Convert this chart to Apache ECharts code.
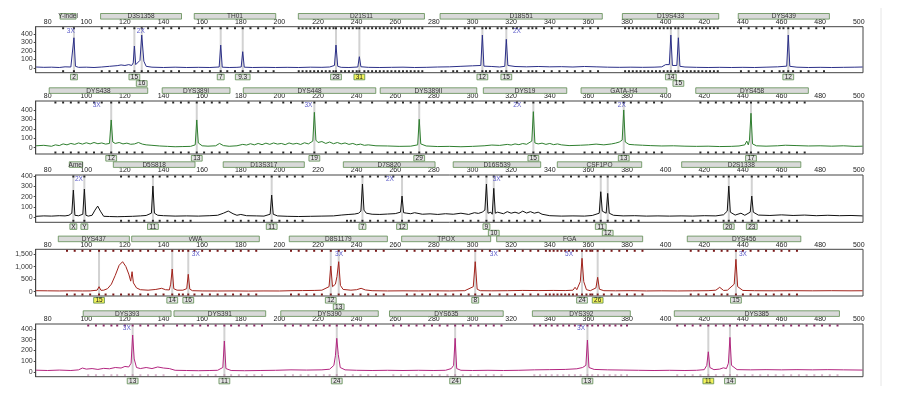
<!DOCTYPE html>
<html>
<head>
<meta charset="utf-8">
<script src="https://cdn.jsdelivr.net/npm/echarts@6/dist/echarts.min.js"></script>
<style>
  html, body { margin: 0; padding: 0; background: #fff; }
  #ech { width: 902px; height: 397px; }
</style>
</head>
<body>
<div id="ech"></div>
<script>
// x axis labels (bp) shared by all dye panels
const sizeTicks = [80, 100, 120, 140, 160, 180, 200, 220, 240, 260, 280, 300, 320, 340, 360, 380, 400, 420, 440, 460, 480, 500];
const rfuTicks = [0, 100, 200, 300, 400];
const rfuTicksRed = [0, 500, 1000, 1500];

// locus bins: [start bp, end bp, name]
const lociBlue = [[86.4, 94.7, 'Y-indel'], [107.4, 149.3, 'D3S1358'], [155.9, 198.1, 'TH01'], [209.8, 275.1, 'D21S11'], [283.2, 367.2, 'D18S51'], [377.6, 427.5, 'D19S433'], [437.6, 484.8, 'DYS439']];
const lociGreen = [[80.8, 131.8, 'DYS438'], [139.3, 174.4, 'DYS389I'], [181.3, 249.9, 'DYS448'], [252.2, 302.2, 'DYS389II'], [305.6, 348.8, 'DYS19'], [356.2, 400.6, 'GATA-H4'], [415.6, 473.9, 'DYS458']];
const lociBlack = [[91.2, 98.1, 'Amel'], [114, 156.3, 'D5S818'], [170.9, 212.9, 'D13S317'], [233.1, 280.6, 'D7S820'], [290, 335.3, 'D16S539'], [343.9, 387.6, 'CSF1PO'], [408.3, 470, 'D2S1338']];
const lociRed = [[85.5, 122.3, 'DYS437'], [123.5, 189.6, 'vWA'], [205.1, 255.9, 'D8S1179'], [263.3, 309.4, 'TPOX'], [312.5, 388.1, 'FGA'], [411.2, 470, 'DYS456']];
const lociPink = [[98.4, 143.9, 'DYS393'], [145.4, 192.9, 'DYS391'], [200.7, 251.2, 'DYS390'], [257, 315.9, 'DYS635'], [331, 381.7, 'DYS392'], [404.5, 490, 'DYS385']];

// ladder bin positions (bp), drawn as small squares on the plot edges
const binsBlue = [88, 93.6,
    108, 112, 116, 120, 124.9, 128.7, 132, 136, 140, 144, 148,
    156, 160, 164, 169.6, 173, 177, 181, 185, 189, 193, 197,
    210, 212, 214, 216, 218, 220, 222, 224, 226, 228, 229.3, 232, 234, 236, 238, 240, 241.4, 244, 246, 248, 250, 252, 254, 256, 258, 260, 262, 264, 266, 268, 270, 272, 274,
    284, 286, 290, 292, 296, 298, 301, 305.1, 307, 309, 313, 315, 317.5, 321, 323, 325, 329, 331, 333, 337, 341, 345, 349, 353, 357, 361, 365,
    379, 381, 383, 385, 387, 389, 391, 393, 395, 397, 399, 401, 402.7, 405, 406.6, 409, 411, 413, 415, 417, 419, 421, 423, 425, 427,
    439, 443, 447, 451, 455, 459, 461, 463.5, 466, 470, 474, 478, 482];
const binsGreen = [84, 88, 92, 96, 100, 104, 108, 112.9, 117, 121, 125, 129,
    141, 145, 149, 153, 157.2, 161, 165, 169, 173,
    184, 190, 196, 202, 206, 212, 218.1, 224, 230, 236, 242, 248,
    256, 260, 264, 268, 272.4, 276, 280, 284, 288, 292, 296, 300,
    307, 311, 315, 319, 323, 327, 331.5, 335, 339, 343, 347,
    358, 362, 366, 370, 374, 378.3, 382, 386, 390, 394, 398,
    418, 422, 426, 430, 434, 438, 442, 444.2, 448, 452, 456, 460, 464, 468, 472];
const binsBlack = [93.3, 99,
    118, 122, 126, 130, 134.5, 138, 142, 146, 150, 154,
    172, 176, 180, 184, 188, 192, 196, 200, 204, 208, 212,
    235, 237, 239, 243, 247, 251, 255, 259, 263.5, 267, 271, 275, 279,
    291, 295, 299, 303, 307.2, 311, 315, 319, 323, 327, 331, 335,
    347, 351, 355, 359, 363, 366.4, 370, 374, 378, 382, 386,
    410, 414, 418, 422, 426, 430, 432.7, 436, 440, 444.6, 448, 452, 456, 460, 464, 468];
const binsRed = [90, 94, 98, 102, 106.6, 110, 114, 118, 122,
    124, 128, 132, 136, 140, 144.5, 148, 150, 152.8, 156, 160, 164, 168, 172, 176, 180, 184, 188,
    206, 210, 214, 218, 222, 226.6, 230.7, 234, 238, 242, 246, 250, 254,
    266, 270, 274, 278, 282, 286, 290, 294, 298, 301.4, 305, 309,
    314, 318, 322, 326, 330, 334, 338, 340, 342, 344, 346, 348, 350, 352, 354, 356.7, 359, 361, 362, 364.8, 368, 372, 376, 380, 384, 388,
    413, 417, 421, 425, 429, 432, 436.4, 440, 444, 448, 452, 456, 460, 464, 468];
const binsPink = [101, 105, 109, 113, 116, 120, 124, 128, 132, 136, 140,
    147, 151, 155, 159, 163, 167, 171.5, 175, 179, 183, 187, 191,
    203, 207, 211, 215, 219, 223, 226, 229.7, 234, 238, 242, 246, 250,
    259, 263, 267, 271, 275, 279, 283, 287, 291, 295, 299, 303, 307, 311, 315,
    332, 335, 338, 341, 344, 347, 350, 353, 356, 359.5, 362, 365, 368, 371, 374, 377, 380,
    406, 410, 414, 418, 422.1, 426, 430, 433.3, 437, 441, 445, 449, 453, 457, 461, 465, 469, 473, 477, 481, 485, 489];

// allele calls: [bp, allele, row, offLadder(yellow)]
const allelesBlue = [[93.6, '2', 0, 0], [124.9, '15', 0, 0], [128.7, '16', 1, 0], [169.6, '7', 0, 0], [181, '9.3', 0, 0], [229.3, '28', 0, 0], [241.4, '31', 0, 1], [305.1, '12', 0, 0], [317.5, '15', 0, 0], [402.7, '14', 0, 0], [406.6, '15', 1, 0], [463.5, '12', 0, 0]];
const allelesGreen = [[112.9, '12', 0, 0], [157.2, '13', 0, 0], [218.1, '19', 0, 0], [272.4, '29', 0, 0], [331.5, '15', 0, 0], [378.3, '13', 0, 0], [444.2, '17', 0, 0]];
const allelesBlack = [[93.3, 'X', 0, 0], [99, 'Y', 0, 0], [134.5, '11', 0, 0], [196, '11', 0, 0], [243, '7', 0, 0], [263.5, '12', 0, 0], [307.2, '9', 0, 0], [311, '10', 1, 0], [366.4, '11', 0, 0], [370, '12', 1, 0], [432.7, '20', 0, 0], [444.6, '23', 0, 0]];
const allelesRed = [[106.6, '15', 0, 1], [144.5, '14', 0, 0], [152.8, '16', 0, 0], [226.6, '12', 0, 0], [230.7, '13', 1, 0], [301.4, '8', 0, 0], [356.7, '24', 0, 0], [364.8, '26', 0, 1], [436.4, '15', 0, 0]];
const allelesPink = [[124, '13', 0, 0], [171.5, '11', 0, 0], [229.7, '24', 0, 0], [291, '24', 0, 0], [359.5, '13', 0, 0], [422.1, '11', 0, 1], [433.3, '14', 0, 0]];

// stutter/pull-up flags: [bp, text]
const flagsBlue = [[92, '3X'], [128.2, '2X'], [323, '2X']];
const flagsGreen = [[105.4, '3X'], [215, '3X'], [323.2, '2X'], [377.3, '2X']];
const flagsBlack = [[96.2, '2X'], [257.2, '2X'], [312.5, '3X']];
const flagsRed = [[156.7, '3X'], [230.9, '3X'], [311, '3X'], [350, '5X'], [440, '3X']];
const flagsPink = [[121, '3X'], [356.2, '3X']];

// traces: [bp, RFU]
const traceBlue = [[74, 12], [78, 8], [82, 10], [86, 6], [89, 14], [92, 12], [93, 22], [93.6, 356], [94.4, 20], [96, 8], [100, 10], [104, 6], [108, 12], [112, 20], [116, 28], [118, 36], [120, 30], [122, 40], [123.5, 30], [124.3, 60], [124.9, 259], [125.6, 40], [126.5, 30], [127.8, 90], [128.7, 388], [129.8, 80], [131, 20], [134, 10], [140, 6], [146, 10], [152, 6], [158, 8], [164, 6], [168.8, 12], [169.6, 270], [170.4, 10], [174, 6], [178, 8], [180.2, 12], [181, 192], [181.8, 10], [186, 6], [192, 8], [198, 6], [204, 8], [210, 6], [216, 10], [222, 8], [226, 12], [228.5, 30], [229.3, 270], [230.2, 20], [232, 8], [236, 6], [240.6, 12], [241.4, 133], [242.2, 15], [246, 8], [252, 6], [258, 8], [264, 10], [270, 6], [276, 8], [282, 12], [288, 14], [294, 20], [300, 26], [304.3, 30], [305.1, 388], [305.9, 22], [310, 18], [314, 12], [316.7, 20], [317.5, 338], [318.3, 30], [322, 18], [328, 14], [334, 18], [340, 14], [346, 16], [352, 12], [358, 18], [364, 14], [370, 10], [376, 8], [382, 10], [388, 8], [394, 10], [398, 14], [400, 40], [401, 20], [401.9, 40], [402.7, 388], [403.5, 30], [405.8, 30], [406.6, 356], [407.4, 20], [410, 12], [416, 8], [422, 6], [428, 8], [434, 6], [440, 8], [446, 6], [452, 10], [458, 14], [462.7, 22], [463.5, 388], [464.3, 20], [468, 10], [474, 6], [480, 8], [486, 6], [492, 8], [498, 10], [502, 12]];
const traceGreen = [[74, 20], [78, 25], [82, 15], [84, 30], [86, 22], [88, 40], [90, 30], [92, 45], [94, 35], [96, 50], [98, 38], [100, 52], [102, 40], [104, 55], [106, 42], [108, 50], [110, 38], [112, 45], [112.9, 294], [113.7, 60], [115, 45], [117, 55], [119, 40], [121, 48], [123, 36], [125, 40], [127, 55], [129, 38], [131, 30], [134, 25], [138, 18], [142, 14], [146, 10], [150, 12], [154, 14], [156.4, 30], [157.2, 294], [158, 50], [160, 20], [163, 16], [167, 20], [169, 45], [171, 22], [174, 15], [178, 20], [181, 35], [183, 28], [185, 42], [187, 30], [189, 45], [191, 32], [193, 48], [195, 35], [197, 50], [199, 38], [201, 45], [203, 32], [205, 50], [207, 38], [209, 46], [211, 34], [213, 52], [215, 40], [217.3, 70], [218.1, 375], [218.9, 80], [220, 55], [222, 65], [224, 45], [226, 60], [228, 42], [230, 55], [232, 40], [234, 50], [236, 35], [238, 45], [240, 30], [242, 38], [244, 25], [246, 30], [250, 20], [256, 18], [262, 14], [268, 16], [271.6, 30], [272.4, 301], [273.2, 40], [276, 18], [282, 12], [288, 14], [294, 10], [300, 14], [306, 20], [310, 28], [314, 24], [318, 35], [320, 28], [322, 40], [324, 32], [326, 44], [328, 36], [330.7, 70], [331.5, 382], [332.3, 50], [334, 40], [336, 48], [338, 35], [340, 45], [342, 32], [344, 40], [346, 30], [350, 22], [356, 26], [360, 30], [364, 38], [368, 30], [372, 40], [374, 48], [376, 60], [377.5, 80], [378.3, 400], [379.1, 60], [381, 35], [384, 30], [388, 26], [392, 22], [398, 18], [404, 20], [410, 16], [416, 14], [422, 16], [428, 12], [434, 14], [438, 18], [441, 30], [442, 70], [442.8, 30], [443.4, 80], [444.2, 365], [445, 40], [447, 20], [452, 16], [458, 20], [462, 26], [468, 22], [474, 18], [480, 20], [486, 16], [492, 20], [498, 14], [502, 16]];
const traceBlack = [[74, 10], [78, 14], [82, 12], [86, 16], [89, 14], [91, 20], [92.5, 40], [93.3, 264], [94.1, 20], [96, 15], [98.2, 30], [99, 274], [99.8, 20], [101, 12], [103, 20], [104.5, 70], [105.9, 109], [107.3, 60], [109, 10], [112, 8], [116, 6], [120, 8], [124, 10], [128, 14], [131, 18], [133.7, 40], [134.5, 303], [135.3, 40], [137, 20], [140, 16], [146, 12], [152, 14], [158, 12], [164, 16], [168, 20], [171, 40], [173.5, 61], [176, 35], [178, 20], [180, 28], [183, 16], [188, 14], [192, 12], [195.2, 30], [196, 216], [196.8, 30], [199, 14], [204, 10], [210, 8], [216, 10], [222, 12], [228, 14], [232, 22], [236, 28], [239, 32], [241, 40], [242.2, 60], [243, 323], [243.8, 70], [245, 40], [248, 30], [252, 28], [256, 32], [260, 36], [262.7, 50], [263.5, 206], [264.3, 45], [266, 40], [268, 35], [270, 45], [274, 30], [278, 34], [282, 28], [286, 35], [290, 30], [294, 40], [298, 28], [301, 45], [303, 38], [305, 50], [306.4, 70], [307.2, 323], [308, 40], [309.5, 50], [310.2, 30], [311, 281], [311.8, 40], [313, 50], [316, 35], [318, 55], [320, 40], [322, 50], [324, 38], [326, 60], [328, 42], [330, 55], [332, 40], [334, 50], [336, 30], [340, 16], [346, 12], [352, 14], [358, 12], [362, 18], [365.6, 40], [366.4, 248], [367.2, 60], [369.2, 40], [370, 232], [370.8, 40], [373, 20], [378, 14], [384, 16], [390, 12], [396, 14], [402, 12], [408, 14], [414, 12], [420, 16], [426, 14], [430, 25], [431.9, 60], [432.7, 303], [433.5, 50], [436, 22], [439, 40], [441, 20], [443.8, 50], [444.6, 206], [445.4, 50], [448, 22], [454, 18], [460, 24], [466, 18], [472, 22], [478, 16], [484, 20], [490, 16], [496, 18], [502, 14]];
const traceRed = [[74, 40], [80, 35], [86, 30], [92, 35], [98, 30], [102, 32], [105.6, 60], [106.6, 199], [107.6, 55], [109, 60], [111, 120], [113, 300], [115, 650], [117, 1050], [118.8, 1194], [120.5, 1000], [122, 700], [123, 420], [123.7, 796], [124.4, 350], [126, 150], [128, 80], [132, 60], [136, 90], [139, 135], [141, 80], [143, 70], [143.7, 300], [144.5, 903], [145.3, 120], [147, 60], [150, 60], [152, 120], [152.8, 692], [153.6, 100], [155, 40], [160, 30], [168, 28], [176, 30], [184, 26], [192, 30], [200, 28], [206, 40], [212, 45], [218, 50], [222, 60], [225.7, 200], [226.6, 1022], [227.5, 200], [229, 300], [229.8, 600], [230.7, 1194], [231.6, 250], [233, 90], [237, 60], [240, 80], [242.3, 135], [244.5, 70], [248, 40], [256, 30], [264, 35], [272, 30], [280, 35], [288, 30], [296, 40], [300.4, 200], [301.4, 1194], [302.4, 100], [304, 40], [310, 35], [318, 40], [326, 50], [334, 45], [342, 50], [348, 45], [352, 60], [353.1, 175], [354, 80], [355.8, 400], [356.7, 1329], [357.6, 400], [359, 80], [361, 40], [363.9, 150], [364.8, 573], [365.7, 100], [368, 40], [374, 35], [382, 40], [390, 30], [398, 35], [406, 30], [414, 35], [422, 40], [426, 60], [428, 175], [430, 50], [432, 60], [435.5, 300], [436.4, 1289], [437.3, 200], [440, 50], [446, 40], [456, 35], [466, 40], [476, 35], [486, 40], [496, 35], [502, 38]];
const tracePink = [[74, 15], [80, 12], [86, 16], [92, 12], [96, 18], [98, 35], [100, 25], [103, 30], [106, 22], [109, 32], [112, 28], [115, 40], [118, 35], [120, 50], [122, 45], [123.2, 80], [124, 344], [124.8, 120], [126, 40], [128, 30], [131, 40], [134, 30], [137, 45], [140, 35], [143, 30], [146, 14], [152, 12], [158, 10], [164, 12], [168, 14], [170.7, 40], [171.5, 288], [172.3, 30], [175, 12], [182, 10], [190, 12], [198, 14], [206, 18], [214, 16], [222, 18], [226, 24], [228.2, 60], [229, 150], [229.7, 313], [230.5, 160], [231.5, 40], [234, 18], [240, 14], [248, 12], [256, 14], [264, 12], [272, 14], [280, 12], [286, 14], [289, 30], [290.2, 60], [291, 313], [291.8, 30], [294, 14], [300, 12], [308, 14], [316, 12], [324, 14], [332, 18], [340, 20], [348, 22], [354, 28], [357, 40], [358.7, 60], [359.5, 297], [360.3, 40], [363, 22], [370, 18], [378, 16], [386, 14], [394, 12], [402, 14], [410, 12], [416, 14], [420, 20], [421.3, 60], [422.1, 187], [422.9, 40], [425, 20], [428, 25], [429.9, 37], [431.5, 30], [432.5, 80], [433.3, 322], [434.1, 60], [437, 20], [444, 18], [452, 20], [460, 18], [468, 20], [476, 18], [484, 20], [492, 18], [502, 16]];

const FONT = 'Liberation Sans, Arial, sans-serif';

// panel layout (pixels) and y ranges
const panels = [
    {top: 26.7, height: 46, ymin: -55, ymax: 486, ticks: rfuTicks, color: '#2b2f88', binColor: '#2a2a2a', binBottom: true, trace: traceBlue, bins: binsBlue, loci: lociBlue, alleles: allelesBlue, flags: flagsBlue},
    {top: 101, height: 53, ymin: -67, ymax: 495, ticks: rfuTicks, color: '#2f7f2f', binColor: '#2a2a2a', binBottom: true, trace: traceGreen, bins: binsGreen, loci: lociGreen, alleles: allelesGreen, flags: flagsGreen},
    {top: 175, height: 47.3, ymin: -48, ymax: 410, ticks: rfuTicks, color: '#111111', binColor: '#2a2a2a', binBottom: true, trace: traceBlack, bins: binsBlack, loci: lociBlack, alleles: allelesBlack, flags: flagsBlack},
    {top: 249.3, height: 46.7, ymin: -171, ymax: 1687, ticks: rfuTicksRed, color: '#a3241d', binColor: '#7a1a1a', binBottom: true, trace: traceRed, bins: binsRed, loci: lociRed, alleles: allelesRed, flags: flagsRed},
    {top: 324, height: 52.7, ymin: -46, ymax: 447, ticks: rfuTicks, color: '#b3257f', binColor: '#8a2a66', binBottom: false, trace: tracePink, bins: binsPink, loci: lociPink, alleles: allelesPink, flags: flagsPink}
];

const grids = [], xAxes = [], yAxes = [], series = [];

panels.forEach((p, i) => {
    grids.push({left: 35.7, right: 39, top: p.top, height: p.height, show: true, borderColor: '#444', borderWidth: 1, backgroundColor: '#fff'});
    xAxes.push({
        gridIndex: i, type: 'value', position: 'top', min: 73.8, max: 502.2,
        axisLine: {show: false}, axisTick: {show: false}, splitLine: {show: false},
        axisLabel: {customValues: sizeTicks, fontSize: 7, fontFamily: FONT, color: '#222', margin: 1}
    });
    yAxes.push({
        gridIndex: i, type: 'value', min: p.ymin, max: p.ymax,
        axisLine: {show: true, lineStyle: {color: '#444'}},
        axisTick: {show: true, customValues: p.ticks, length: 2, lineStyle: {color: '#444'}},
        splitLine: {show: false},
        axisLabel: {customValues: p.ticks, fontSize: 7, fontFamily: FONT, color: '#333', margin: 3,
            formatter: v => v >= 1000 ? String(v).replace(/(\d)(\d{3})$/, '$1,$2') : String(v)}
    });

    // allele lines and labels
    series.push({
        type: 'custom', xAxisIndex: i, yAxisIndex: i, clip: false, silent: true, z: 1,
        data: p.alleles.map(a => [a[0], 0]),
        renderItem: (params, api) => {
            const a = p.alleles[params.dataIndex];
            const cs = params.coordSys;
            const x = api.coord([a[0], 0])[0];
            const w = a[1].length * 3.9 + 3;
            const y = cs.y + cs.height + 1.5 + a[2] * 6.5;
            return {
                type: 'group', children: [
                    {type: 'line', shape: {x1: x, y1: cs.y + 1, x2: x, y2: cs.y + cs.height - 1}, style: {stroke: '#d2d2d2', lineWidth: 2}},
                    {type: 'rect', shape: {x: x - w / 2, y: y, width: w, height: 5.6}, style: {fill: a[3] ? '#f2f25a' : '#e4e4e4', stroke: '#5a8a4e', lineWidth: 0.8}},
                    {type: 'text', style: {text: a[1], x: x, y: y + 3, align: 'center', verticalAlign: 'middle', font: '6.5px ' + FONT, fill: '#222'}}
                ]
            };
        }
    });

    // ladder bin markers on top / bottom edges
    series.push({
        type: 'custom', xAxisIndex: i, yAxisIndex: i, clip: false, silent: true, z: 2,
        data: p.bins.map(b => [b, 0]),
        renderItem: (params, api) => {
            const cs = params.coordSys;
            const x = api.coord([p.bins[params.dataIndex], 0])[0];
            const kids = [{type: 'rect', shape: {x: x - 1, y: cs.y + 0.5, width: 2, height: 2}, style: {fill: p.binColor}}];
            kids.push({type: 'rect', shape: {x: x - 1, y: cs.y + cs.height - 2.5, width: 2, height: 2},
                style: {fill: p.binColor, opacity: p.binBottom ? 1 : 0.35}});
            return {type: 'group', children: kids};
        }
    });

    // trace
    series.push({
        type: 'line', xAxisIndex: i, yAxisIndex: i, data: p.trace, showSymbol: false, z: 3,
        lineStyle: {color: p.color, width: 1}, itemStyle: {color: p.color}, animation: false
    });

    // locus bins above the axis
    series.push({
        type: 'custom', xAxisIndex: i, yAxisIndex: i, clip: false, silent: true, z: 4,
        data: p.loci.map(l => [l[0], l[1]]),
        renderItem: (params, api) => {
            const l = p.loci[params.dataIndex];
            const cs = params.coordSys;
            const x0 = api.coord([l[0], 0])[0];
            const x1 = api.coord([l[1], 0])[0];
            const y = cs.y - 13.2;
            return {
                type: 'group', children: [
                    {type: 'rect', shape: {x: x0, y: y, width: x1 - x0, height: 5.6}, style: {fill: '#d9d9d9', stroke: '#5e8c50', lineWidth: 0.8}},
                    {type: 'text', style: {text: l[2], x: (x0 + x1) / 2, y: y + 3, align: 'center', verticalAlign: 'middle', font: '6.5px ' + FONT, fill: '#333'}}
                ]
            };
        }
    });

    // 2X / 3X flags
    series.push({
        type: 'custom', xAxisIndex: i, yAxisIndex: i, clip: false, silent: true, z: 5,
        data: p.flags.map(f => [f[0], 0]),
        renderItem: (params, api) => {
            const f = p.flags[params.dataIndex];
            const cs = params.coordSys;
            const x = api.coord([f[0], 0])[0];
            return {type: 'text', style: {text: f[1], x: x, y: cs.y + 4.5, align: 'center', verticalAlign: 'middle', font: '6.5px ' + FONT, fill: '#5a5ac8'}};
        }
    });
});

const option = {
    backgroundColor: '#fff',
    animation: false,
    grid: grids,
    xAxis: xAxes,
    yAxis: yAxes,
    series: series,
    graphic: [
        {type: 'line', shape: {x1: 881, y1: 8, x2: 881, y2: 386}, style: {stroke: '#e6e6e6', lineWidth: 1}}
    ]
};

const ecIns = echarts.init(document.getElementById('ech'));
ecIns.setOption(option);
</script>
</body>
</html>
